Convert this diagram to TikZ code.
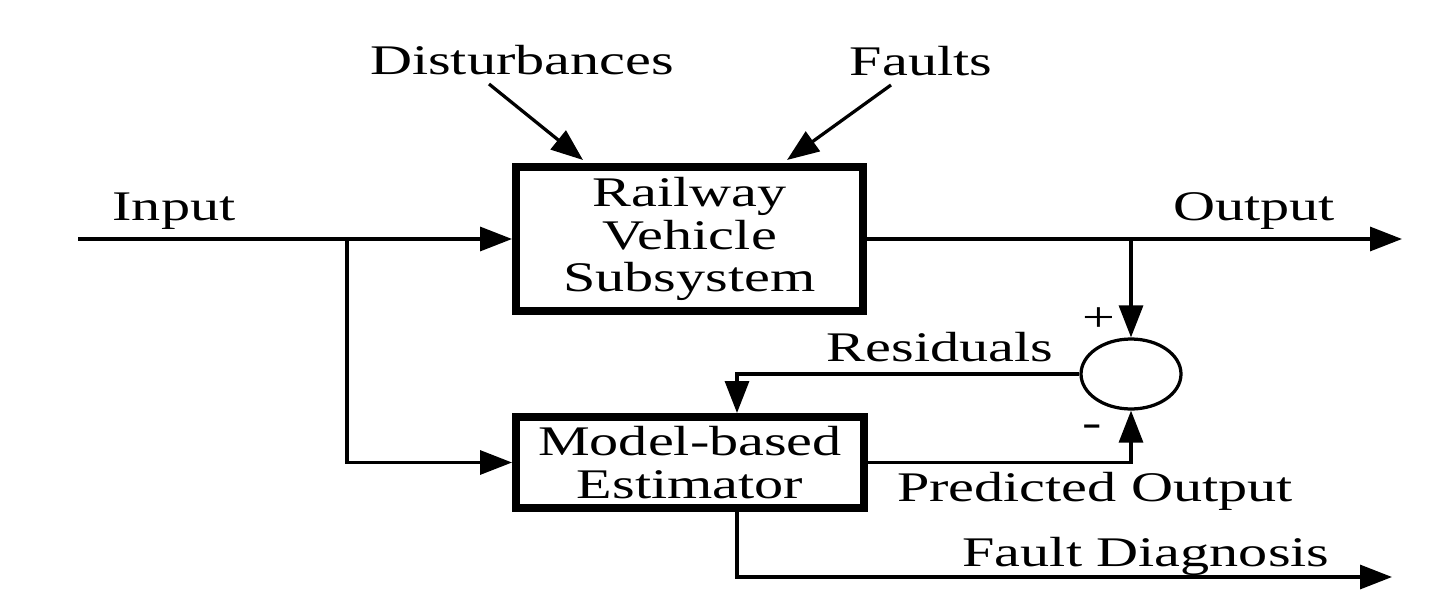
\documentclass[tikz,border=0pt]{standalone}
\usepackage{fontspec}
\usepackage{graphicx}
\setmainfont{Liberation Serif}
\usetikzlibrary{arrows.meta,shapes.geometric,calc}
\newcommand\sx[1]{\scalebox{1.38}[1]{#1}}
\begin{document}
\begin{tikzpicture}[x=0.02cm,y=-0.02cm,
  txt/.style={font=\fontsize{24}{24.4}\selectfont, inner sep=0pt, anchor=base},
  blk/.style={draw, line width=0.15cm, align=center, inner sep=0pt,
    font=\fontsize{24}{24.4}\selectfont},
  conn/.style={line width=0.065cm},
  arr/.style={conn, -{Triangle[length=0.64cm,width=0.48cm]}},
  sumst/.style={draw, ellipse, line width=0.065cm, minimum width=2cm, minimum height=1.4cm, inner sep=0pt}]
\useasboundingbox (0,0) rectangle (1439,615);
% blocks
\node[blk, minimum width=6.95cm, minimum height=2.89cm] (rail) at (689.5,239)
  {\sx{Railway}\\ \sx{Vehicle}\\ \sx{Subsystem}};
\node[blk, minimum width=6.97cm, minimum height=1.83cm] (est) at (690,462.5)
  {\sx{Model-based}\\ \sx{Estimator}};
\node[sumst] (sum) at (1131,374) {};
% labels
\node[txt] (ldist) at (522,74) {\sx{Disturbances}};
\node[txt] (lfault) at (921,76) {\sx{Faults}};
\node[txt] (lin) at (174,220) {\sx{Input}};
\node[txt] (lout) at (1254,220) {\sx{Output}};
\node[txt] (lres) at (940,361) {\sx{Residuals}};
\node[txt] (lpred) at (1095,501) {\sx{Predicted Output}};
\node[txt] (lfd) at (1146,566) {\sx{Fault Diagnosis}};
\node[txt, anchor=center] (lplus) at (1099,320) {\sx{+}};
\node[txt, anchor=center] (lminus) at (1092,431) {\sx{-}};
% coordinates
\coordinate (in) at (78,239);
\coordinate (br1) at (347,239);
\coordinate (outend) at (1402,239);
\coordinate (br2) at (1131,239);
\coordinate (resc) at (737,374);
\coordinate (fd) at (737,577);
\coordinate (fdend) at (1392,577);
\coordinate (d1) at (489,84);
\coordinate (d2) at (583,160);
\coordinate (f1) at (891,85);
\coordinate (f2) at (787,160);
% connectors
\draw[arr] (in) -- (rail.west);
\draw[arr] (br1) |- (est.west);
\draw[arr] (rail.east) -- (outend);
\draw[arr] (br2) -- (sum.north);
\draw[arr] (sum.west) -- (resc) -- (resc |- est.north);
\draw[arr] (est.east) -| (sum.south);
\draw[arr] (fd |- est.south) -- (fd) -- (fdend);
\draw[arr] (d1) -- (d2);
\draw[arr] (f1) -- (f2);
\end{tikzpicture}
\end{document}
